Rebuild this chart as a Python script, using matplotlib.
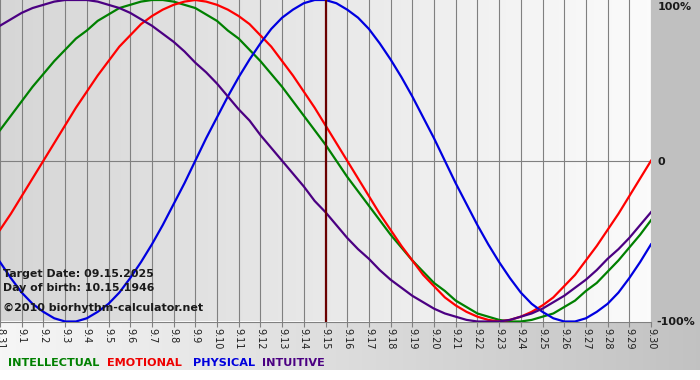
import numpy as np
import matplotlib
matplotlib.use('Agg')
import matplotlib.pyplot as plt
from matplotlib.patches import Rectangle

# ---------------- data ----------------
day_labels = ["8.31", "9.1", "9.2", "9.3", "9.4", "9.5", "9.6", "9.7", "9.8", "9.9",
              "9.10", "9.11", "9.12", "9.13", "9.14", "9.15", "9.16", "9.17", "9.18",
              "9.19", "9.20", "9.21", "9.22", "9.23", "9.24", "9.25", "9.26", "9.27",
              "9.28", "9.29", "9.30"]

# values read every half day, from 8.31 to 9.30
intellectual = [0.19, 0.28, 0.37, 0.46, 0.54, 0.62, 0.69, 0.76, 0.81, 0.87, 0.91,
                0.95, 0.97, 0.99, 1.00, 1.00, 0.99, 0.97, 0.95, 0.91, 0.87, 0.81,
                0.76, 0.69, 0.62, 0.54, 0.46, 0.37, 0.28, 0.19, 0.10, 0.00, -0.10,
                -0.19, -0.28, -0.37, -0.46, -0.54, -0.62, -0.69, -0.76, -0.81, -0.87,
                -0.91, -0.95, -0.97, -0.99, -1.00, -1.00, -0.99, -0.97, -0.95, -0.91,
                -0.87, -0.81, -0.76, -0.69, -0.62, -0.54, -0.46, -0.37]
emotional = [-0.43, -0.33, -0.22, -0.11, 0.00, 0.11, 0.22, 0.33, 0.43, 0.53, 0.62,
             0.71, 0.78, 0.85, 0.90, 0.94, 0.97, 0.99, 1.00, 0.99, 0.97, 0.94,
             0.90, 0.85, 0.78, 0.71, 0.62, 0.53, 0.43, 0.33, 0.22, 0.11, 0.00,
             -0.11, -0.22, -0.33, -0.43, -0.53, -0.62, -0.71, -0.78, -0.85, -0.90,
             -0.94, -0.97, -0.99, -1.00, -0.99, -0.97, -0.94, -0.90, -0.85, -0.78,
             -0.71, -0.62, -0.53, -0.43, -0.33, -0.22, -0.11, 0.00]
physical = [-0.63, -0.73, -0.82, -0.89, -0.94, -0.98, -1.00, -1.00, -0.98, -0.94, -0.89,
            -0.82, -0.73, -0.63, -0.52, -0.40, -0.27, -0.14, 0.00, 0.14, 0.27,
            0.40, 0.52, 0.63, 0.73, 0.82, 0.89, 0.94, 0.98, 1.00, 1.00, 0.98,
            0.94, 0.89, 0.82, 0.73, 0.63, 0.52, 0.40, 0.27, 0.14, 0.00, -0.14,
            -0.27, -0.40, -0.52, -0.63, -0.73, -0.82, -0.89, -0.94, -0.98, -1.00,
            -1.00, -0.98, -0.94, -0.89, -0.82, -0.73, -0.63, -0.52]
intuitive = [0.84, 0.88, 0.92, 0.95, 0.97, 0.99, 1.00, 1.00, 1.00, 0.99, 0.97,
             0.95, 0.92, 0.88, 0.84, 0.79, 0.74, 0.68, 0.61, 0.55, 0.48, 0.40,
             0.32, 0.25, 0.16, 0.08, 0.00, -0.08, -0.16, -0.25, -0.32, -0.40, -0.48,
             -0.55, -0.61, -0.68, -0.74, -0.79, -0.84, -0.88, -0.92, -0.95, -0.97,
             -0.99, -1.00, -1.00, -1.00, -0.99, -0.97, -0.95, -0.92, -0.88, -0.84,
             -0.79, -0.74, -0.68, -0.61, -0.55, -0.48, -0.40, -0.32]

target_index = 15
series_names = ["INTELLECTUAL", "EMOTIONAL", "PHYSICAL", "INTUITIVE"]
y_labels = ["100%", "0", "-100%"]
info_lines = ["Target Date: 09.15.2025", "Day of birth: 10.15.1946"]
copyright_text = "\u00a92010 biorhythm-calculator.net"

# ---------------- styles ----------------
W, H = 700, 380
line_colors = ['#008000', '#ff0000', '#0000e0', '#4b0082']
legend_colors = ['#008000', '#ee0000', '#0000dd', '#4b0082']

fig = plt.figure(figsize=(7, 3.8), dpi=100)
fig.patch.set_facecolor('white')

# background axes (pixel coordinates)
bg = fig.add_axes([0, 0, 1, 1], zorder=0)
bg.add_patch(Rectangle((651, 0), W - 651, 322, color='#c0c0c0', lw=0))
g = np.linspace(0, 1, 256)
c0 = np.array([0.965, 0.965, 0.965])
c1 = np.array([0.76, 0.76, 0.76])
band = (c0 + (c1 - c0) * g[:, None])[None, :, :]
bg.imshow(band, extent=(0, W, 370, 321), aspect='auto', interpolation='bilinear')
bg.set_xlim(0, W)
bg.set_ylim(H, 0)
bg.axis('off')

# main axes
plot_bottom_px = 321.5
ax = fig.add_axes([0, (H - plot_bottom_px) / H, 651 / W, plot_bottom_px / H], zorder=1)
n = len(day_labels)
x_days = np.arange(n)
x_half = np.arange(len(physical)) / 2.0
p0 = np.array([0.84, 0.84, 0.84])
p1 = np.array([0.985, 0.985, 0.985])
pg = (p0 + (p1 - p0) * g[:, None])[None, :, :]
ax.imshow(pg, extent=(0, n - 1, -1, 1), aspect='auto', interpolation='bilinear', zorder=0)

for i in x_days:
    ax.axvline(i, color='#808080', lw=0.8, zorder=1)
ax.axhline(0, color='#808080', lw=0.8, zorder=1)

for vals, col in zip([intellectual, emotional, physical, intuitive], line_colors):
    ax.plot(x_half, vals, color=col, lw=1.6, zorder=3, solid_joinstyle='round')

ax.axvline(target_index, color='#6a0000', lw=1.6, zorder=4)

ax.set_xlim(0, n - 1)
ax.set_ylim(-1, 1)
ax.set_xticks(x_days)
ax.set_xticklabels(day_labels, rotation=-90, fontsize=7, color='#202020',
                   family='DejaVu Sans')
ax.tick_params(axis='x', length=3.5, width=0.8, color='#808080', pad=1.5)
ax.set_yticks([])
for s in ['top', 'left', 'right']:
    ax.spines[s].set_visible(False)
ax.spines['bottom'].set_color('#808080')
ax.spines['bottom'].set_linewidth(0.8)


def ftxt(px, py, s, **kw):
    return fig.text(px / W, 1 - py / H, s, **kw)


# info text inside plot
ftxt(3, 277, info_lines[0], fontsize=7.9, fontweight='bold', color='#1a1a1a',
     va='baseline', ha='left', zorder=5, family='DejaVu Sans')
ftxt(3, 291, info_lines[1], fontsize=7.9, fontweight='bold', color='#1a1a1a',
     va='baseline', ha='left', zorder=5, family='DejaVu Sans')
ftxt(3, 311, copyright_text, fontsize=8.0, fontweight='bold', color='#1a1a1a',
     va='baseline', ha='left', zorder=5, family='DejaVu Sans')

# right labels
ftxt(658, 7, y_labels[0], fontsize=8, fontweight='bold', color='#1a1a1a',
     va='center', ha='left', family='DejaVu Sans')
ftxt(658, 162, y_labels[1], fontsize=8, fontweight='bold', color='#1a1a1a',
     va='center', ha='left', family='DejaVu Sans')
ftxt(656, 322, y_labels[2], fontsize=8, fontweight='bold', color='#1a1a1a',
     va='center', ha='left', family='DejaVu Sans')

# legend words
legend_x = [8, 107, 193, 262]
for name, col, lx in zip(series_names, legend_colors, legend_x):
    ftxt(lx, 366, name, fontsize=8.1, fontweight='bold', color=col,
         va='baseline', ha='left', family='DejaVu Sans')

fig.savefig('out.png', dpi=100, facecolor='white')
